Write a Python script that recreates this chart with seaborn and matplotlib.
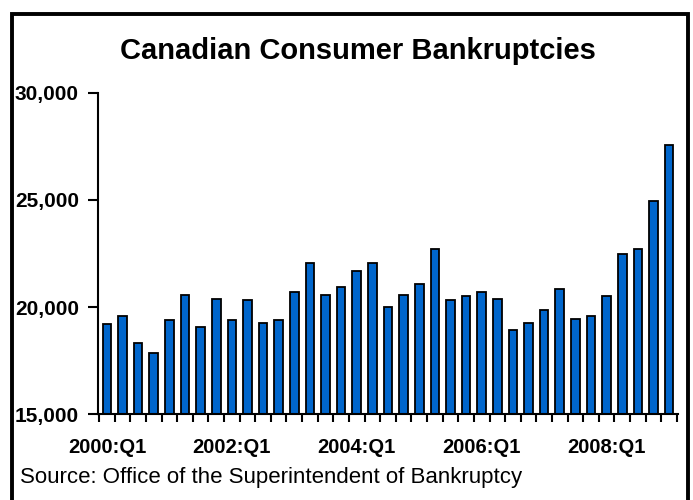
import numpy as np
import pandas as pd
import matplotlib
matplotlib.use("Agg")
import matplotlib.pyplot as plt
from matplotlib.patches import Rectangle
import seaborn as sns

# ---- data ----
years = [2000, 2001, 2002, 2003, 2004, 2005, 2006, 2007, 2008, 2009]
quarters = [f"{y}:Q{q}" for y in years for q in (1, 2, 3, 4)][:37]
bankruptcies = [19200, 19570, 18340, 17880, 19380, 20580, 19090, 20390,
                19380, 20320, 19270, 19380, 20690, 22070, 20580, 20950,
                21700, 22070, 20020, 20580, 21060, 22720, 20320, 20500,
                20690, 20390, 18920, 19270, 19850, 20860, 19460, 19570,
                20500, 22460, 22720, 24960, 27570]
label_quarters = ["2000:Q1", "2002:Q1", "2004:Q1", "2006:Q1", "2008:Q1"]
y_ticks = [15000, 20000, 25000, 30000]

title = "Canadian Consumer Bankruptcies"
source = "Source: Office of the Superintendent of Bankruptcy"

df = pd.DataFrame({"quarter": quarters, "value": bankruptcies})

sns.set_style("white")
plt.rcParams["font.family"] = ["Liberation Sans", "DejaVu Sans"]
plt.rcParams["text.color"] = "black"
plt.rcParams["xtick.color"] = "black"
plt.rcParams["ytick.color"] = "black"
plt.rcParams["axes.labelcolor"] = "black"

fig = plt.figure(figsize=(6.93, 5.0), dpi=100)
ax = fig.add_axes([98.3 / 693, 1 - 414.3 / 500, 579.4 / 693, 321.6 / 500])

sns.barplot(data=df, x="quarter", y="value", order=quarters, color="#0066CC",
            saturation=1, width=0.55, edgecolor="black", linewidth=1.3, ax=ax)

ax.set_ylim(15000, 30000)
ax.set_xlim(-0.55, len(quarters) - 0.45)
ax.set_xlabel("")
ax.set_ylabel("")

ax.set_yticks(y_ticks)
ax.set_yticklabels([f"{v:,}" for v in y_ticks], fontsize=15, fontweight="bold",
                   color="black")
ax.tick_params(axis="y", which="major", length=7, width=1.5, direction="out",
               color="black", pad=7, left=True)

pos = [quarters.index(q) for q in label_quarters]
ax.set_xticks(pos)
ax.set_xticklabels(label_quarters, fontsize=14.5, fontweight="bold", color="black")
ax.tick_params(axis="x", which="major", length=0, pad=17)
ax.set_xticks(np.arange(-0.5, len(quarters), 1.0), minor=True)
ax.tick_params(axis="x", which="minor", length=6, width=1.5, direction="out",
               color="black", bottom=True)

for s in ["top", "right"]:
    ax.spines[s].set_visible(False)
for s in ["left", "bottom"]:
    ax.spines[s].set_color("black")
    ax.spines[s].set_linewidth(1.5)

fig.text(358 / 693, 1 - 59 / 500, title, ha="center", va="baseline",
         fontsize=21, fontweight="bold", color="black")
fig.text(20 / 693, 1 - 483 / 500, source, ha="left", va="baseline",
         fontsize=16, color="black")

border = Rectangle((12 / 693, -0.05), (688 - 12) / 693, 1.05 - 14 / 500,
                   transform=fig.transFigure, fill=False, edgecolor="black",
                   linewidth=2.8, clip_on=False)
fig.patches.append(border)

fig.savefig("out.png", dpi=100)
